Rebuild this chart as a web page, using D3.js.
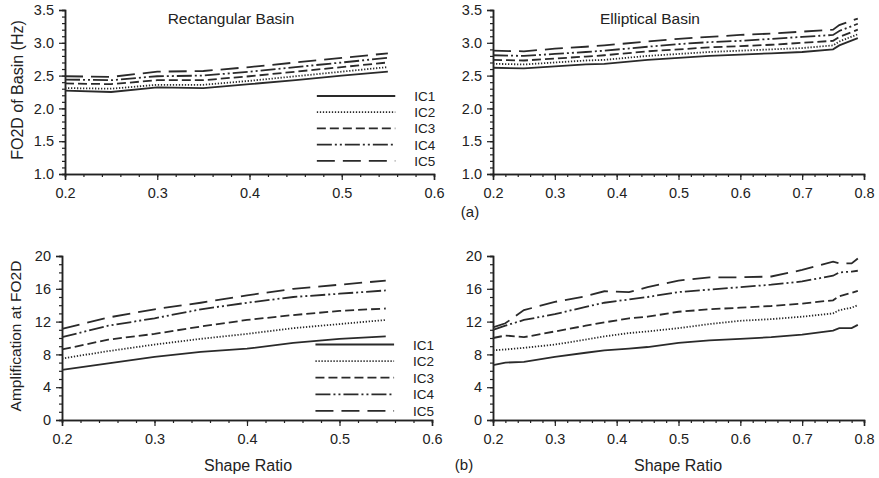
<!DOCTYPE html>
<html>
<head>
<meta charset="utf-8">
<script src="https://cdn.jsdelivr.net/npm/d3@7"></script>
<style>
  body { margin: 0; background: #fff; }
  svg { display: block; font-family: "Liberation Sans", Arial, sans-serif; }
</style>
</head>
<body>
<svg id="chart" width="879" height="478"></svg>
<script>
// ---------- DATA ----------
const seriesNames = ["IC1", "IC2", "IC3", "IC4", "IC5"];

// (a) Rectangular basin – FO2D (Hz)
const rectX = [0.2, 0.25, 0.3, 0.35, 0.4, 0.45, 0.5, 0.55];
const rectFreqIC1 = [2.27, 2.25, 2.32, 2.31, 2.37, 2.43, 2.50, 2.56];
const rectFreqIC2 = [2.31, 2.30, 2.36, 2.36, 2.42, 2.49, 2.56, 2.63];
const rectFreqIC3 = [2.38, 2.37, 2.43, 2.43, 2.49, 2.56, 2.63, 2.70];
const rectFreqIC4 = [2.44, 2.43, 2.49, 2.50, 2.56, 2.63, 2.70, 2.77];
const rectFreqIC5 = [2.49, 2.48, 2.56, 2.57, 2.63, 2.70, 2.77, 2.84];

// (a) Elliptical basin – FO2D (Hz)
const ellFreqX = [0.2, 0.25, 0.3, 0.35, 0.38, 0.45, 0.5, 0.55, 0.6, 0.65, 0.7, 0.75, 0.76, 0.79];
const ellFreqIC1 = [2.62, 2.61, 2.64, 2.67, 2.68, 2.74, 2.77, 2.80, 2.82, 2.84, 2.86, 2.90, 2.96, 3.07];
const ellFreqIC2 = [2.68, 2.67, 2.70, 2.73, 2.74, 2.80, 2.83, 2.86, 2.88, 2.90, 2.92, 2.96, 3.02, 3.13];
const ellFreqIC3 = [2.74, 2.73, 2.76, 2.79, 2.81, 2.87, 2.90, 2.93, 2.95, 2.97, 3.00, 3.03, 3.09, 3.20];
const ellFreqIC4 = [2.81, 2.80, 2.83, 2.86, 2.88, 2.94, 2.98, 3.01, 3.03, 3.06, 3.09, 3.12, 3.18, 3.29];
const ellFreqIC5 = [2.88, 2.87, 2.91, 2.94, 2.96, 3.02, 3.06, 3.09, 3.12, 3.14, 3.17, 3.20, 3.27, 3.37];

// (b) Rectangular basin – amplification
const rectAmpIC1 = [6.1, 6.9, 7.7, 8.3, 8.7, 9.4, 9.9, 10.2];
const rectAmpIC2 = [7.5, 8.4, 9.2, 9.9, 10.5, 11.2, 11.7, 12.2];
const rectAmpIC3 = [8.6, 9.8, 10.5, 11.4, 12.2, 12.8, 13.3, 13.6];
const rectAmpIC4 = [10.1, 11.5, 12.4, 13.5, 14.3, 15.0, 15.4, 15.8];
const rectAmpIC5 = [11.1, 12.5, 13.5, 14.3, 15.2, 16.0, 16.5, 17.0];

// (b) Elliptical basin – amplification
const ellAmpX = [0.2, 0.22, 0.25, 0.3, 0.35, 0.38, 0.42, 0.45, 0.5, 0.55, 0.6, 0.65, 0.7, 0.75, 0.76, 0.78, 0.79];
const ellAmpIC1 = [6.7, 7.0, 7.1, 7.7, 8.2, 8.5, 8.7, 8.9, 9.4, 9.7, 9.9, 10.1, 10.4, 10.9, 11.2, 11.2, 11.6];
const ellAmpIC2 = [8.5, 8.6, 8.8, 9.2, 9.8, 10.2, 10.6, 10.8, 11.2, 11.7, 12.1, 12.3, 12.6, 13.0, 13.4, 13.7, 14.0];
const ellAmpIC3 = [10.0, 10.3, 10.1, 10.8, 11.5, 11.9, 12.4, 12.6, 13.2, 13.5, 13.7, 13.9, 14.2, 14.6, 15.1, 15.5, 15.75];
const ellAmpIC4 = [11.0, 11.5, 12.2, 12.9, 13.8, 14.3, 14.7, 15.0, 15.6, 15.9, 16.2, 16.5, 16.9, 17.6, 18.0, 18.1, 18.2];
const ellAmpIC5 = [11.3, 11.8, 13.4, 14.4, 15.1, 15.7, 15.6, 16.2, 17.0, 17.4, 17.4, 17.5, 18.3, 19.3, 19.1, 19.1, 19.7];

// tick labels
const xTicksRect = [0.2, 0.3, 0.4, 0.5, 0.6];
const xTicksEll = [0.2, 0.3, 0.4, 0.5, 0.6, 0.7, 0.8];
const yTicksFreq = [1.0, 1.5, 2.0, 2.5, 3.0, 3.5];
const yTicksAmp = [0, 4, 8, 12, 16, 20];

// ---------- STYLE ----------
const dashes = [null, "1.3,1.7", "9,4", "15,3,2,3,2,3", "18,8"];
const lineColor = "#2a2a2a";
const textColor = "#222";

const svg = d3.select("#chart");

function panel(opt) {
  const x = d3.scaleLinear().domain(opt.xDomain).range(opt.xRange);
  const y = d3.scaleLinear().domain(opt.yDomain).range(opt.yRange);
  const g = svg.append("g");

  // minor ticks
  const xAxisMinor = d3.axisBottom(x).tickValues(d3.range(opt.xDomain[0], opt.xDomain[1] + 1e-9, 0.02)).tickSize(3).tickFormat("");
  g.append("g").attr("transform", `translate(0,${opt.yRange[0]})`).call(xAxisMinor);
  const yMinorVals = d3.range(opt.yDomain[0], opt.yDomain[1] + 1e-9, opt.yMinor);
  g.append("g").attr("transform", `translate(${opt.xRange[0]},0)`)
    .call(d3.axisLeft(y).tickValues(yMinorVals).tickSize(3).tickFormat(""));

  // major axes
  g.append("g").attr("class", "xa").attr("transform", `translate(0,${opt.yRange[0]})`)
    .call(d3.axisBottom(x).tickValues(opt.xTicks).tickSize(6).tickPadding(8).tickFormat(d3.format(".1f")));
  g.append("g").attr("class", "ya").attr("transform", `translate(${opt.xRange[0]},0)`)
    .call(d3.axisLeft(y).tickValues(opt.yTicks).tickSize(6).tickPadding(5).tickFormat(d3.format(opt.yFmt)));

  g.selectAll(".domain").attr("stroke", "#222").attr("stroke-width", 1.5);
  g.selectAll(".tick line").attr("stroke", "#222").attr("stroke-width", 1.2);
  g.selectAll(".tick text").attr("font-size", 14.5).attr("fill", textColor)
    .attr("font-family", "'Liberation Sans', Arial, sans-serif");

  const line = d3.line().x(d => x(d[0])).y(d => y(d[1]));
  opt.series.forEach((vals, i) => {
    g.append("path")
      .datum(opt.xs.map((xv, j) => [xv, vals[j]]))
      .attr("d", line)
      .attr("fill", "none")
      .attr("stroke", lineColor)
      .attr("stroke-width", 1.8)
      .attr("stroke-dasharray", dashes[i]);
  });

  if (opt.title) {
    g.append("text").attr("x", opt.titleX).attr("y", opt.yRange[1] + 14)
      .attr("text-anchor", "middle").attr("font-size", 15.5).attr("fill", textColor).text(opt.title);
  }

  if (opt.legend) {
    const lx0 = x(opt.legend.x0), lx1 = x(opt.legend.x1);
    seriesNames.forEach((name, i) => {
      const ly = opt.legend.y0 + i * opt.legend.dy;
      g.append("line").attr("x1", lx0).attr("x2", lx1).attr("y1", ly).attr("y2", ly)
        .attr("stroke", lineColor).attr("stroke-width", 1.8).attr("stroke-dasharray", dashes[i]);
      g.append("text").attr("x", lx1 + 19).attr("y", ly + 5).attr("font-size", 13.5)
        .attr("fill", textColor).text(name);
    });
  }
  return g;
}

// (a) top-left
panel({
  xDomain: [0.2, 0.6], xRange: [65, 434], yDomain: [1.0, 3.5], yRange: [174, 10],
  xTicks: xTicksRect, yTicks: yTicksFreq, yFmt: ".1f", yMinor: 0.1,
  xs: rectX, series: [rectFreqIC1, rectFreqIC2, rectFreqIC3, rectFreqIC4, rectFreqIC5],
  title: "Rectangular Basin", titleX: 231,
  legend: { x0: 0.473, x1: 0.558, y0: 96, dy: 16.2 }
});
// (a) top-right
panel({
  xDomain: [0.2, 0.8], xRange: [493, 864], yDomain: [1.0, 3.5], yRange: [174, 10],
  xTicks: xTicksEll, yTicks: yTicksFreq, yFmt: ".1f", yMinor: 0.1,
  xs: ellFreqX, series: [ellFreqIC1, ellFreqIC2, ellFreqIC3, ellFreqIC4, ellFreqIC5],
  title: "Elliptical Basin", titleX: 650
});
// (b) bottom-left
panel({
  xDomain: [0.2, 0.6], xRange: [62, 432], yDomain: [0, 20], yRange: [420, 256],
  xTicks: xTicksRect, yTicks: yTicksAmp, yFmt: "d", yMinor: 1,
  xs: rectX, series: [rectAmpIC1, rectAmpIC2, rectAmpIC3, rectAmpIC4, rectAmpIC5],
  legend: { x0: 0.474, x1: 0.559, y0: 344.5, dy: 16.6 }
});
// (b) bottom-right
panel({
  xDomain: [0.2, 0.8], xRange: [493, 864], yDomain: [0, 20], yRange: [420, 256],
  xTicks: xTicksEll, yTicks: yTicksAmp, yFmt: "d", yMinor: 1,
  xs: ellAmpX, series: [ellAmpIC1, ellAmpIC2, ellAmpIC3, ellAmpIC4, ellAmpIC5]
});

// axis titles and panel labels
svg.append("text").attr("transform", "translate(23,90) rotate(-90)").attr("text-anchor", "middle")
  .attr("font-size", 16).attr("fill", textColor).text("FO2D of Basin (Hz)");
svg.append("text").attr("transform", "translate(21,336) rotate(-90)").attr("text-anchor", "middle")
  .attr("font-size", 15.5).attr("fill", textColor).text("Amplification at FO2D");
svg.append("text").attr("x", 248).attr("y", 471).attr("text-anchor", "middle")
  .attr("font-size", 16).attr("fill", textColor).text("Shape Ratio");
svg.append("text").attr("x", 678).attr("y", 471).attr("text-anchor", "middle")
  .attr("font-size", 16).attr("fill", textColor).text("Shape Ratio");
svg.append("text").attr("x", 470).attr("y", 217).attr("text-anchor", "middle")
  .attr("font-size", 15).attr("fill", textColor).text("(a)");
svg.append("text").attr("x", 464).attr("y", 470).attr("text-anchor", "middle")
  .attr("font-size", 15).attr("fill", textColor).text("(b)");
</script>
</body>
</html>
